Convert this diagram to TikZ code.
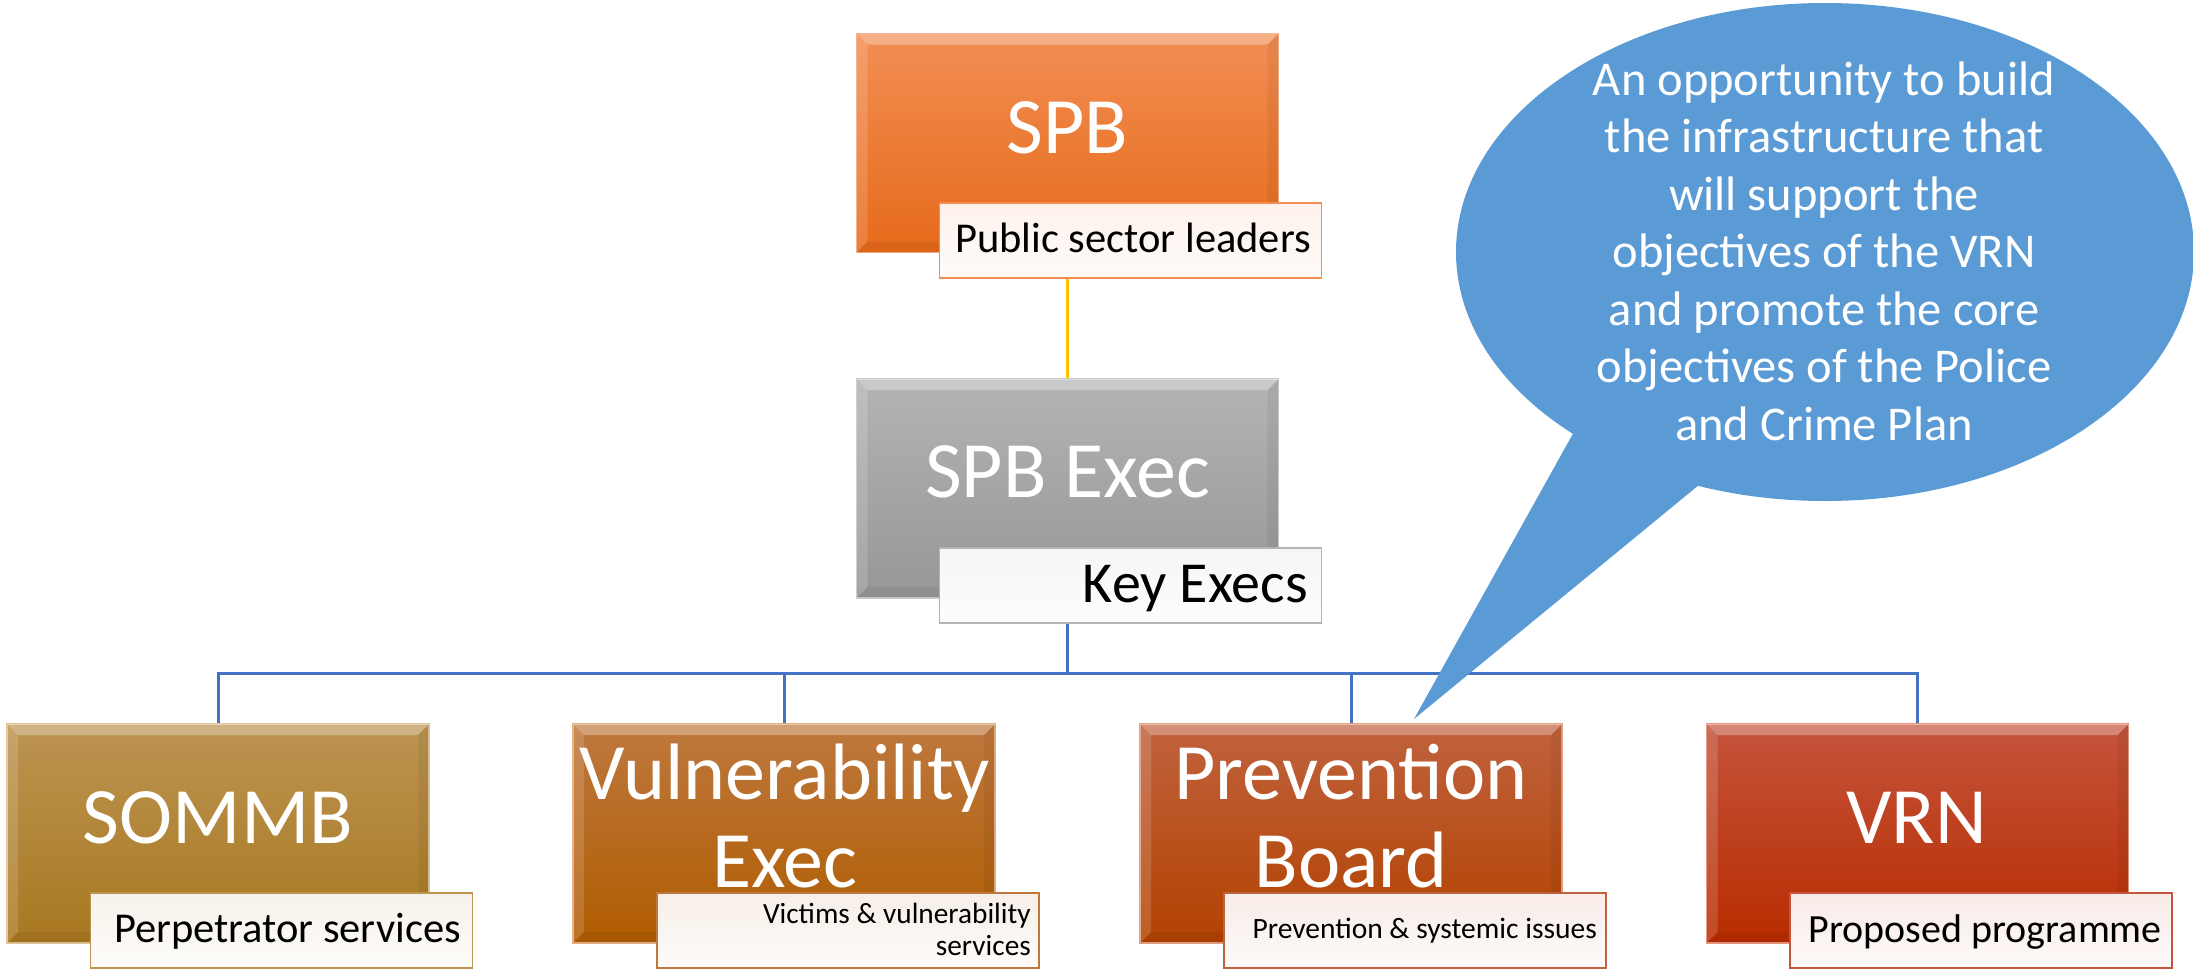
\documentclass[tikz,border=0pt]{standalone}
\usepackage{fontspec}
\setmainfont{Carlito}
\usetikzlibrary{shapes.geometric}
\definecolor{spbtop}{RGB}{242,142,84}
\definecolor{spbbot}{RGB}{230,106,26}
\definecolor{spbedge}{RGB}{246,176,136}
\definecolor{exectop}{RGB}{180,180,180}
\definecolor{execbot}{RGB}{150,150,150}
\definecolor{execedge}{RGB}{205,205,205}
\definecolor{somtop}{RGB}{188,148,82}
\definecolor{sombot}{RGB}{168,120,32}
\definecolor{somedge}{RGB}{222,196,150}
\definecolor{vultop}{RGB}{190,120,62}
\definecolor{vulbot}{RGB}{176,92,0}
\definecolor{vuledge}{RGB}{226,176,130}
\definecolor{prvtop}{RGB}{192,98,62}
\definecolor{prvbot}{RGB}{178,66,0}
\definecolor{prvedge}{RGB}{228,160,130}
\definecolor{vrntop}{RGB}{196,84,60}
\definecolor{vrnbot}{RGB}{184,44,0}
\definecolor{vrnedge}{RGB}{232,150,130}
\definecolor{busblue}{RGB}{68,114,196}
\definecolor{linkgold}{RGB}{255,192,0}
\definecolor{callblue}{RGB}{91,155,213}
\newcommand{\mybevel}[1]{%
  \fill[white,opacity=0.30] (#1.north west) -- (#1.north east) -- ([xshift=-11pt,yshift=-11pt]#1.north east) -- ([xshift=11pt,yshift=-11pt]#1.north west) -- cycle;
  \fill[white,opacity=0.15] (#1.north west) -- ([xshift=11pt,yshift=-11pt]#1.north west) -- ([xshift=11pt,yshift=11pt]#1.south west) -- (#1.south west) -- cycle;
  \fill[black,opacity=0.05] (#1.north east) -- ([xshift=-11pt,yshift=-11pt]#1.north east) -- ([xshift=-11pt,yshift=11pt]#1.south east) -- (#1.south east) -- cycle;
  \fill[black,opacity=0.05] (#1.south west) -- ([xshift=11pt,yshift=11pt]#1.south west) -- ([xshift=-11pt,yshift=11pt]#1.south east) -- (#1.south east) -- cycle;
}
\tikzset{
  box/.style={rectangle, inner sep=0pt, outer sep=0pt, top color=#1top, bottom color=#1bot, draw=#1edge, line width=1.5pt, minimum height=219pt, minimum width=422pt},
  lab/.style={rectangle, inner sep=0pt, outer sep=0pt, top color=#1top!12!white, bottom color=#1top!3!white, draw=#1top, line width=1.5pt, minimum height=75pt, minimum width=382pt},
  maintxt/.style={text=white, inner sep=0pt, anchor=base, align=center, font=\fontsize{80}{88}\selectfont},
  labtxt/.style={text=black, inner sep=0pt, anchor=base east, align=right},
  busline/.style={draw=busblue, line width=3pt},
  linkline/.style={draw=linkgold, line width=3pt},
  calloutshape/.style={ellipse, fill=callblue, inner sep=0pt, minimum width=738pt, minimum height=498pt},
  callouttxt/.style={text=white, inner sep=0pt, anchor=base, align=center, font=\fontsize{48.5}{57.5}\selectfont}
}
\begin{document}
\begin{tikzpicture}[x=1pt,y=-1pt]
\useasboundingbox (0,0) rectangle (2193,969);
% boxes (positions)
\path
  node[box=spb]  (spb)   at (1067.5,143) {}
  node[box=exec] (exec)  at (1067.5,488.5) {}
  node[box=som]  (sommb) at (218,833.5) {}
  node[box=vul]  (vul)   at (784,833.5) {}
  node[box=prv]  (prv)   at (1351,833.5) {}
  node[box=vrn]  (vrn)   at (1917.5,833.5) {};
% connectors
\coordinate (bus) at (1067.5,673);
\draw[linkline] (spb.south) -- (exec.north);
\draw[busline] (exec.south) -- (bus);
\draw[busline] (bus) -| (sommb.north);
\draw[busline] (bus) -| (vul.north);
\draw[busline] (bus) -| (prv.north);
\draw[busline] (bus) -| (vrn.north);
% redraw boxes over the connectors
\path
  node[box=spb]  at (spb) {}
  node[box=exec] at (exec) {}
  node[box=som]  at (sommb) {}
  node[box=vul]  at (vul) {}
  node[box=prv]  at (prv) {}
  node[box=vrn]  at (vrn) {};
\mybevel{spb}\mybevel{exec}\mybevel{sommb}\mybevel{vul}\mybevel{prv}\mybevel{vrn}
% main texts
\node[maintxt] (spbT)   at (1067.5,153) {SPB};
\node[maintxt] (execT)  at (1067.5,497) {SPB Exec};
\node[maintxt] (sommbT) at (218,843) {SOMMB};
\node[maintxt] (vulT)   at (785,887) {Vulnerability\\Exec};
\node[maintxt] (prvT)   at (1351,887) {Prevention\\Board};
\node[maintxt] (vrnT)   at (1916.5,843) {VRN};
% labels
\node[lab=spb]  (spbL)   at (1130.5,240.5) {};
\node[lab=exec] (execL)  at (1130.5,585.5) {};
\node[lab=som]  (sommbL) at (281.5,930.5) {};
\node[lab=vul]  (vulL)   at (848,930.5) {};
\node[lab=prv]  (prvL)   at (1415,930.5) {};
\node[lab=vrn]  (vrnL)   at (1981,930.5) {};
\node[labtxt, font=\fontsize{42.5}{50}\selectfont] (spbLT)   at (1311,252) {Public sector leaders};
\node[labtxt, font=\fontsize{58}{68}\selectfont]   (execLT)  at (1308,602) {Key Execs};
\node[labtxt, font=\fontsize{42.5}{50}\selectfont] (sommbLT) at (461,942) {Perpetrator services};
\node[labtxt, font=\fontsize{29.3}{32}\selectfont] (vulLT)   at (1031,955) {Victims \& vulnerability\\services};
\node[labtxt, font=\fontsize{29.5}{34}\selectfont] (prvLT)   at (1597,938) {Prevention \& systemic issues};
\node[labtxt, font=\fontsize{40}{48}\selectfont]   (vrnLT)   at (2162,942) {Proposed programme};
% callout
\node[calloutshape] (callout) at (1825,252) {};
\coordinate (tip) at (1414,719);
\fill[callblue] (tip) -- (1575,430) -- (1705,480) -- cycle;
\node[callouttxt] (calloutT) at (1824,440) {An opportunity to build\\the infrastructure that\\will support the\\objectives of the VRN\\and promote the core\\objectives of the Police\\and Crime Plan};
\end{tikzpicture}
\end{document}
